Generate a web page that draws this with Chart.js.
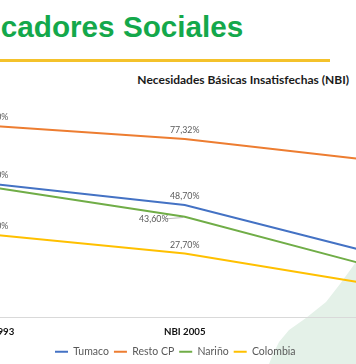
<!DOCTYPE html>
<html>
<head>
<meta charset="utf-8">
<script src="https://cdn.jsdelivr.net/npm/chart.js@4/dist/chart.umd.min.js"></script>
<style>
  html, body { margin: 0; padding: 0; width: 356px; height: 364px; overflow: hidden; background: #ffffff; }
  #deco { position: absolute; left: 0; top: 0; width: 356px; height: 364px; background: #e4f1e8;
    clip-path: polygon(356px 262px, 340px 284px, 326px 302px, 306px 318px, 289px 330px, 279px 342px, 273px 354px, 269px 364px, 356px 364px); }
  #heading { position: absolute; left: -52px; top: 12px; font-family: "Liberation Sans", Arial, sans-serif; font-weight: bold; font-size: 29.7px; line-height: 29.7px; color: #14a84b; white-space: nowrap; }
  #rule { position: absolute; left: 0; top: 58.5px; width: 330px; height: 3px; background: #f4c22b; }
  #ctitle { position: absolute; right: 7px; top: 73px; font-family: Lato, sans-serif; font-weight: bold; font-size: 12px; line-height: 14px; color: #1a1a1a; white-space: nowrap; }
  #wrap { position: absolute; left: -122.25px; top: 70px; width: 594.5px; height: 297px; }
</style>
</head>
<body>
<div id="deco"></div>
<div id="heading">Indicadores Sociales</div>
<div id="rule"></div>
<div id="ctitle">Necesidades Básicas Insatisfechas (NBI)</div>
<div id="wrap"><canvas id="c"></canvas></div>
<script>
const categories = ['NBI 1993', 'NBI 2005', 'NBI 2018'];
const seriesNames = ['Tumaco', 'Resto CP', 'Nariño', 'Colombia'];
const tumaco = [57.8, 48.70, 27.6];
const restoCP = [82.9, 77.32, 67.9];
const narino = [56.3, 43.60, 21.7];
const colombia = [35.8, 27.70, 14.1];
const seriesColors = ['#4472c4', '#ed7d31', '#70ad47', '#ffc000'];

function fmt(v) { return v.toFixed(2).replace('.', ',') + '%'; }

const labelPlugin = {
  id: 'pctLabels',
  afterDatasetsDraw(chart) {
    const ctx = chart.ctx;
    ctx.save();
    ctx.font = '8.8px Lato, sans-serif';
    ctx.fillStyle = '#595959';
    ctx.textAlign = 'center';
    ctx.textBaseline = 'middle';
    chart.data.datasets.forEach((ds, i) => {
      const meta = chart.getDatasetMeta(i);
      meta.data.forEach((pt, j) => {
        let x = pt.x, y = pt.y - 8.5;
        if (ds.label === 'Nariño') {
          if (j === 2) {
            x = pt.x + 31; y = pt.y;
          } else {
            x = pt.x - 31; y = pt.y + 2.7;
          }
          if (j === 1) {
            ctx.save();
            ctx.strokeStyle = '#a6a6a6';
            ctx.lineWidth = 0.75;
            ctx.beginPath();
            ctx.moveTo(x + 13, y - 0.7);
            ctx.lineTo(pt.x - 1.7, pt.y + 0.7);
            ctx.stroke();
            ctx.restore();
          }
        }
        ctx.fillText(fmt(ds.data[j]), x, y);
      });
    });
    ctx.restore();
  }
};

const allData = [tumaco, restoCP, narino, colombia];
new Chart(document.getElementById('c'), {
  type: 'line',
  data: {
    labels: categories,
    datasets: seriesNames.map((n, i) => ({
      label: n,
      data: allData[i],
      borderColor: seriesColors[i],
      backgroundColor: seriesColors[i],
      borderWidth: 2,
      pointRadius: 0,
      pointHoverRadius: 0,
      pointStyle: 'line',
      tension: 0,
      fill: false
    }))
  },
  options: {
    responsive: true,
    maintainAspectRatio: false,
    animation: false,
    events: [],
    layout: { padding: { top: 16.5, left: 0, right: 0, bottom: 0 } },
    scales: {
      x: {
        offset: true,
        grid: { display: false, drawTicks: false },
        border: { display: true, color: '#d9d9d9', width: 1 },
        ticks: { color: '#111111', font: { family: 'Lato, sans-serif', size: 9.7, weight: 'bold' }, padding: 8.6, maxRotation: 0, autoSkip: false },
        afterFit(axis) { axis.height = 24; }
      },
      y: {
        min: 0, max: 100,
        grid: { display: false, drawTicks: false },
        border: { display: false },
        ticks: { display: false },
        afterFit(axis) { axis.width = 20; }
      }
    },
    plugins: {
      title: { display: false },
      tooltip: { enabled: false },
      legend: {
        position: 'bottom',
        labels: {
          usePointStyle: true,
          pointStyleWidth: 13,
          boxHeight: 10.5,
          padding: 5,
          color: '#595959',
          font: { family: 'Lato, sans-serif', size: 10.5 }
        }
      }
    }
  },
  plugins: [labelPlugin]
});
</script>
</body>
</html>
